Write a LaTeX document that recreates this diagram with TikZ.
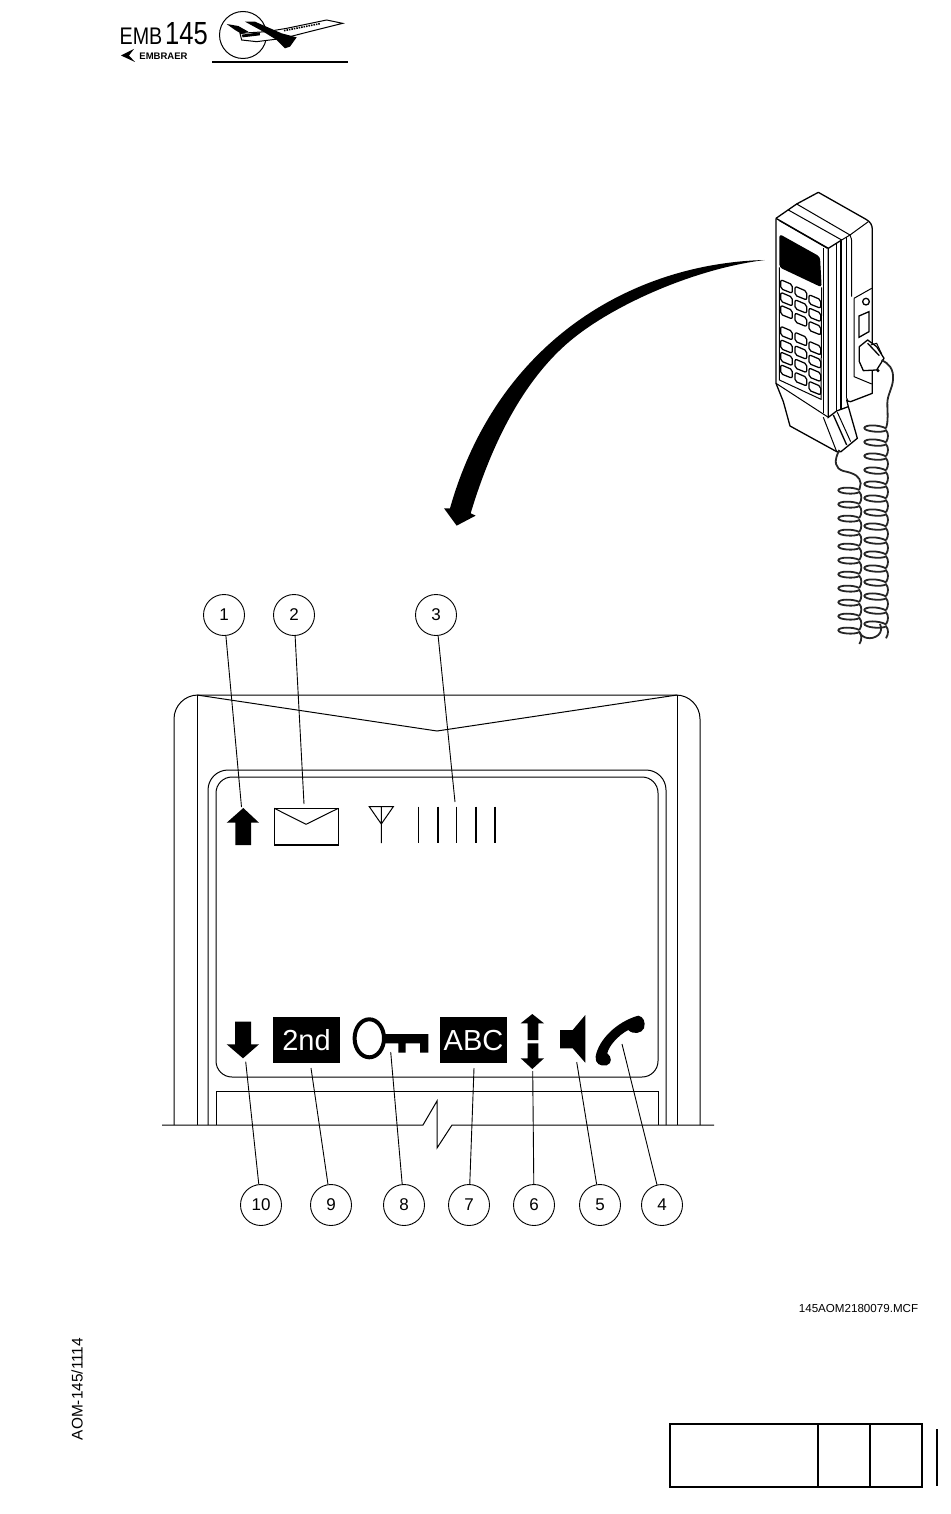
\documentclass[tikz,border=0pt]{standalone}
\usepackage{fontspec}
\setmainfont{Liberation Sans}
\tikzset{
  callout/.style={circle,draw,line width=.9pt,minimum size=41pt,inner sep=0pt,font=\fontsize{17}{17}\selectfont},
  leader/.style={line width=.9pt},
  outline/.style={line width=1pt},
  heavy/.style={line width=1.3pt},
  zoomed/.style={x=.3333pt,y=-.3333pt},
  keyline/.style={line width=1.25pt,rounded corners=2pt},
  coil/.style={line width=1.8pt,black!85},
  badge/.style={fill=black,text=white,inner sep=0pt,minimum width=67pt,minimum height=46pt,font=\fontsize{29}{29}\selectfont},
}
\begin{document}
\begin{tikzpicture}[x=1pt,y=-1pt]
    \useasboundingbox (0,0) rectangle (950,1514);
    % logo
    \node (emb)[inner sep=0pt,xscale=.82,font=\fontsize{24}{24}\selectfont] at (141,36.5) {EMB};
    \node (num)[inner sep=0pt,xscale=.8,font=\fontsize{32}{32}\selectfont] at (186.5,33.5) {145};
    \node (maker)[inner sep=0pt,font=\bfseries\fontsize{9.5}{9.5}\selectfont] at (163.5,56) {EMBRAER};
    \fill (121,55.5)--(134,49)--(129,55.5)--(135,62)--cycle;
    \draw[outline] (243,35) circle [radius=23.5];
    \begin{scope}[shift={(100,0)},zoomed]
        \draw[outline,fill=white] (420,100)--(500,95)--(560,85)--(680,60)--(728,70)--(640,92)--(550,115)--(470,125)--(425,120)--cycle;
        \fill (435,65)--(465,65)--(545,100)--(590,112)--(570,140)--(555,145)--(530,120)--(490,95)--cycle;
        \fill (380,72)--(415,78)--(445,95)--(425,102)--(405,90)--cycle;
        \fill (425,104)--(480,97)--(480,106)--(428,112)--cycle;
        \draw[line width=1.6pt,dash pattern=on 1.5pt off 1pt] (552,92)--(660,71);
    \end{scope}
    \draw[heavy] (212,62)--(348,62);
    % curved arrow
    \begin{scope}[shift={(430,250)},zoomed]
        \fill (1005,30) .. controls (600,40) and (200,280) .. (60,775)
            -- (42,775) -- (80,827) -- (137,797) -- (122,790)
            .. controls (200,530) and (310,361) .. (430,265) .. controls (560,160) and (800,55) .. (1005,30) -- cycle;
    \end{scope}
    % handset
    \begin{scope}[shift={(740,180)},zoomed]
        \draw[heavy,line join=round] (108,115)--(170,72)--(235,37)--(378,118) .. controls (392,126) and (397,135) .. (397,150)
            --(397,640)--(332,665) .. controls (325,667) and (320,662) .. (320,655);
        \draw[outline] (170,72)--(330,165)--(385,125);
        \draw[outline] (145,90)--(305,180)--(330,165);
        \draw[outline] (330,165) .. controls (335,175) and (335,180) .. (335,190)--(335,350);
        \draw[heavy] (320,172)--(320,655);
        \draw[heavy] (108,115)--(265,205)--(305,180);
        \draw[outline] (118,122)--(250,198)--(262,205);
        \draw[heavy] (108,115)--(108,610)--(130,665)--(150,738)--(290,815)--(303,815)--(352,775)--(325,680)--(320,660);
        \draw[heavy] (250,205)--(250,700);
        \draw[heavy] (265,205)--(265,712)--(290,693)--(325,680);
        \draw[outline] (290,188)--(290,693);
        \draw[heavy] (303,182)--(303,690);
        \draw[outline] (108,610)--(265,712);
        \draw[outline] (250,712)--(290,815);
        \draw[heavy] (280,705)--(320,795);
        \draw[outline] (292,697)--(332,785);
        % display and keypad
        \fill[rounded corners=3pt] (118,162)--(240,230)--(245,322)--(118,262)--cycle;
        \draw[outline] (118,262)--(118,600)--(243,658)--(245,322);
        \foreach \kx/\ky in {140/320,140/358,140/397,140/460,140/500,140/537,140/575,
            183/340,183/380,183/420,183/478,183/518,183/558,183/598,
            225/365,225/405,225/445,225/505,225/545,225/585,225/625}
            \draw[keyline,shift={(\kx,\ky)}] (-18,-21)--(17,-6)--(17,20)--(-18,6)--cycle;
        % side plate and plug
        \draw[outline] (342,355)--(395,325);
        \draw[outline] (342,355)--(342,590)--(395,612);
        \draw[heavy] (378,365) circle [radius=10];
        \draw[heavy] (357,408)--(387,395)--(387,455)--(357,472)--cycle;
        \draw[heavy,fill=white,line join=round] (358,500)--(383,480)--(410,500)--(432,535)--(410,570)--(370,572)--(358,545)--cycle;
        \draw[heavy] (383,490)--(418,527);
        \draw[outline] (392,495)--(410,490)--(425,522);
        \fill (414,572) circle [radius=5];
    \end{scope}
    % cord
    \begin{scope}[shift={(800,400)},zoomed]
        \draw[coil] (245,-120) .. controls (265,-110) and (282,-95) .. (279,-60) .. controls (277,-35) and (262,-15) .. (262,10)
            .. controls (262,40) and (266,60) .. (258,85);
        \foreach \cy in {85,127,...,673}
            \draw[coil] (258,\cy) .. controls (235,\cy-12) and (193,\cy-11) .. (193,\cy-1)
                .. controls (193,\cy+9) and (245,\cy+15) .. (258,\cy+6)
                .. controls (266,\cy+14) and (266,\cy+30) .. (258,\cy+42);
        \draw[coil] (118,150) .. controls (100,185) and (105,205) .. (130,213) .. controls (165,220) and (180,230) .. (182,250)--(178,270);
        \foreach \cy in {270,312,...,690}
            \draw[coil] (178,\cy) .. controls (160,\cy-10) and (115,\cy-9) .. (115,\cy+1)
                .. controls (115,\cy+11) and (165,\cy+15) .. (178,\cy+6)
                .. controls (186,\cy+14) and (186,\cy+30) .. (178,\cy+42);
        \draw[coil] (178,696) .. controls (185,715) and (215,722) .. (235,705) .. controls (245,695) and (245,685) .. (240,672);
    \end{scope}
    % housing
    \draw[outline,rounded corners=24pt] (174,1125)--(174,695)--(700,695)--(700,1125);
    \draw[outline] (197,695)--(197,1125) (677,695)--(677,1125);
    \draw[outline] (197,695)--(437,731)--(677,695);
    \draw[outline,rounded corners=20pt] (208,1125)--(208,770)--(666,770)--(666,1125);
    \draw[outline,rounded corners=16pt] (216,777) rectangle (658,1077);
    \draw[outline] (216,1125)--(216,1091)--(658,1091)--(658,1125);
    \draw[outline] (162,1125)--(423,1125)--(437,1101)--(437,1148)--(452,1125)--(714,1125);
    % upper row of the display
    \fill (243.3,808)--(259,822.7)--(251,822.7)--(251,845)--(235.3,845)--(235.3,822.7)--(226.7,822.7)--cycle;
    \draw[heavy] (274.3,808.3) rectangle (338.3,845);
    \draw[outline] (274.3,808.3)--(306,824.3)--(338.3,808.3);
    \draw[outline] (369.3,806.7)--(393.3,806.7)--(381.3,824)--cycle (381.3,806.7)--(381.3,843);
    \foreach \bx in {418.7,438,456.7,476,495}
        \draw[heavy] (\bx,806.7)--(\bx,843);
    % lower row of the display
    \fill (235,1021.7)--(251,1021.7)--(251,1044.3)--(259,1044.3)--(243,1058.3)--(226.7,1044.3)--(235,1044.3)--cycle;
    \node (second)[badge] at (306.5,1040.3) {2nd};
    \node (alpha)[badge] at (473.5,1040.3) {ABC};
    \draw[line width=4pt] (369.3,1038.3) ellipse [x radius=14.7,y radius=19];
    \fill (384,1034)--(428.3,1034)--(428.3,1052.7)--(420,1052.7)--(420,1043.3)--(405.7,1043.3)--(405.7,1052.7)--(398.3,1052.7)--(398.3,1043.3)--(384,1043.3)--cycle;
    \fill (532.3,1014)--(544,1023.3)--(538.3,1023.3)--(538.3,1040)--(527.7,1040)--(527.7,1023.3)--(520.7,1023.3)--cycle;
    \fill (527.7,1043.3)--(538.3,1043.3)--(538.3,1058.3)--(544,1058.3)--(532.3,1069)--(520.7,1058.3)--(527.7,1058.3)--cycle;
    \fill (560,1030)--(572.7,1030)--(585.3,1015)--(585.3,1062.7)--(572.7,1048.3)--(560,1048.3)--cycle;
    \begin{scope}[shift={(200,1000)},zoomed]
        \fill (1315,47) .. controls (1330,50) and (1338,65) .. (1332,85) .. controls (1325,100) and (1300,105) .. (1285,90)
            .. controls (1255,105) and (1225,140) .. (1222,160) .. controls (1235,170) and (1238,190) .. (1220,196)
            .. controls (1200,200) and (1185,190) .. (1187,170) .. controls (1195,120) and (1250,65) .. (1315,47) -- cycle;
    \end{scope}
    % callouts
    \foreach \n/\cx/\cy/\ex/\ey in {1/224/615/241.5/807,2/294/615/304/804,3/436/615/455/802,
        10/261/1205/245.7/1061.7,9/331/1205/311/1068,8/404/1205/390.7/1052,7/469/1205/474/1068,
        6/534/1205/532.7/1071,5/600/1205/576.7/1062,4/662/1205/622/1044}{
        \node (c\n)[callout] at (\cx,\cy) {\n};
        \coordinate (t\n) at (\ex,\ey);
        \draw[leader] (c\n) -- (t\n);
    }
    % footer
    \node (drawingno)[inner sep=0pt,font=\fontsize{11.6}{11.6}\selectfont] at (858.5,1308) {145AOM2180079.MCF};
    \node (pageno)[inner sep=0pt,rotate=90,font=\fontsize{15.4}{15.4}\selectfont] at (77,1389) {AOM-145/1114};
    \draw[line width=1.9pt] (669.7,1424) rectangle (921.7,1487.3);
    \draw[line width=1.9pt] (818.3,1424)--(818.3,1487.3) (869.7,1424)--(869.7,1487.3);
    \draw[line width=2pt] (936.7,1429)--(936.7,1485.7);
\end{tikzpicture}
\end{document}
